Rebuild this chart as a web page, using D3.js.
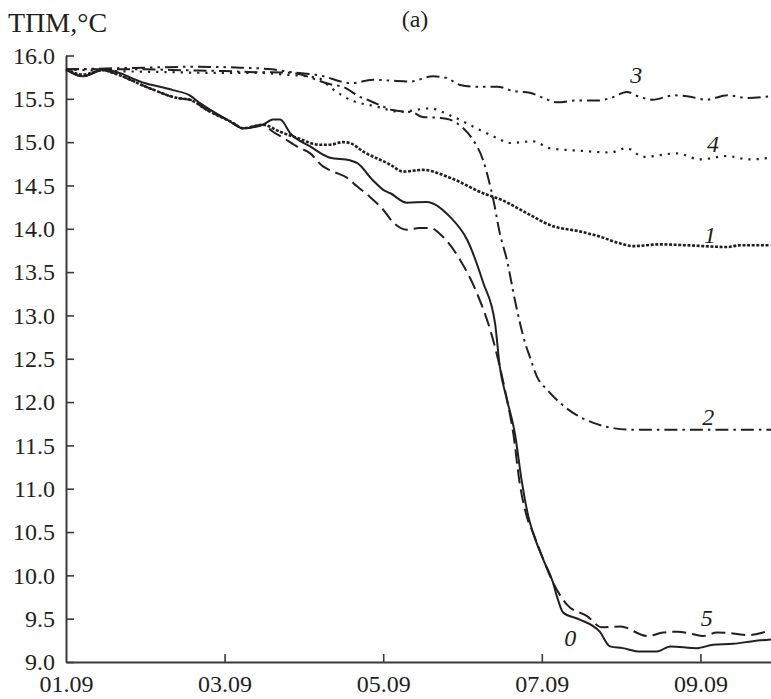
<!DOCTYPE html>
<html>
<head>
<meta charset="utf-8">
<script src="https://cdn.jsdelivr.net/npm/d3@7"></script>
<style>
  html, body { margin: 0; padding: 0; background: #ffffff; }
  svg { display: block; }
  text { font-family: "Liberation Serif", "Times New Roman", serif; fill: #231f20; }
</style>
</head>
<body>
<svg id="chart" width="771" height="699"></svg>
<script>
// ---- data (x = day of September, y = ТПМ, °C) ----
const xTickDays = [1, 3, 5, 7, 9];
const xTickLabels = ["01.09", "03.09", "05.09", "07.09", "09.09"];
const yTicks = [9.0, 9.5, 10.0, 10.5, 11.0, 11.5, 12.0, 12.5, 13.0, 13.5, 14.0, 14.5, 15.0, 15.5, 16.0];

const s0Days = [1.00, 1.21, 1.47, 2.00, 2.35, 2.56, 2.69, 3.03, 3.23, 3.48, 3.61, 3.70, 3.83, 4.08, 4.33, 4.58, 4.67, 4.87, 5.00, 5.09, 5.30, 5.55, 5.84, 6.06, 6.26, 6.41, 6.47, 6.56, 6.66, 6.75, 6.83, 6.89, 7.02, 7.14, 7.19, 7.27, 7.48, 7.73, 7.86, 8.02, 8.24, 8.45, 8.62, 8.96, 9.16, 9.41, 9.66, 9.89];
const s0Vals = [15.84, 15.76, 15.84, 15.68, 15.60, 15.54, 15.45, 15.26, 15.16, 15.20, 15.26, 15.26, 15.10, 14.95, 14.82, 14.79, 14.76, 14.56, 14.45, 14.41, 14.30, 14.31, 14.14, 13.87, 13.38, 12.91, 12.41, 12.03, 11.64, 11.07, 10.68, 10.49, 10.18, 9.92, 9.76, 9.57, 9.49, 9.35, 9.18, 9.16, 9.12, 9.12, 9.18, 9.16, 9.20, 9.21, 9.24, 9.26];

const s1Days = [1.00, 1.21, 1.47, 1.59, 2.06, 2.40, 2.56, 2.78, 3.11, 3.23, 3.48, 3.70, 3.91, 4.20, 4.33, 4.49, 4.58, 4.75, 5.09, 5.25, 5.50, 5.84, 6.26, 6.50, 6.81, 7.14, 7.48, 7.73, 7.99, 8.15, 8.49, 8.83, 9.34, 9.50, 9.88];
const s1Vals = [15.84, 15.78, 15.83, 15.80, 15.62, 15.51, 15.49, 15.37, 15.22, 15.16, 15.20, 15.12, 15.05, 14.97, 14.97, 15.00, 14.99, 14.89, 14.74, 14.66, 14.68, 14.59, 14.41, 14.33, 14.18, 14.03, 13.97, 13.91, 13.83, 13.80, 13.82, 13.81, 13.79, 13.81, 13.81];

const s2Days = [1.00, 1.50, 2.00, 2.50, 3.00, 3.30, 3.83, 4.37, 4.49, 4.71, 4.80, 5.12, 5.38, 5.50, 5.72, 5.84, 6.01, 6.13, 6.26, 6.35, 6.39, 6.47, 6.56, 6.66, 6.79, 6.85, 6.94, 7.07, 7.23, 7.44, 7.65, 7.90, 8.15, 8.50, 9.00, 9.50, 9.89];
const s2Vals = [15.84, 15.84, 15.84, 15.83, 15.82, 15.81, 15.80, 15.66, 15.64, 15.52, 15.49, 15.37, 15.34, 15.29, 15.28, 15.26, 15.16, 15.03, 14.79, 14.49, 14.33, 13.95, 13.64, 13.18, 12.68, 12.52, 12.29, 12.14, 11.99, 11.85, 11.76, 11.70, 11.68, 11.68, 11.68, 11.68, 11.68];

const s3Days = [1.00, 1.50, 2.00, 2.60, 3.20, 3.60, 3.83, 4.20, 4.60, 4.87, 5.10, 5.34, 5.63, 5.80, 5.97, 6.18, 6.44, 6.64, 6.85, 7.02, 7.19, 7.44, 7.70, 7.90, 8.07, 8.24, 8.40, 8.66, 8.83, 9.08, 9.34, 9.59, 9.89];
const s3Vals = [15.84, 15.85, 15.86, 15.87, 15.86, 15.84, 15.81, 15.77, 15.68, 15.72, 15.71, 15.70, 15.76, 15.74, 15.66, 15.64, 15.64, 15.59, 15.57, 15.51, 15.46, 15.48, 15.48, 15.52, 15.58, 15.52, 15.49, 15.54, 15.53, 15.49, 15.54, 15.51, 15.53];

const s4Days = [1.00, 1.60, 2.20, 2.80, 3.40, 3.75, 4.18, 4.35, 4.58, 4.92, 5.21, 5.59, 5.84, 6.22, 6.43, 6.60, 6.89, 7.10, 7.50, 7.86, 8.07, 8.28, 8.70, 9.00, 9.33, 9.62, 9.88];
const s4Vals = [15.84, 15.82, 15.81, 15.80, 15.80, 15.78, 15.74, 15.62, 15.49, 15.41, 15.35, 15.39, 15.31, 15.14, 15.05, 14.99, 15.01, 14.93, 14.90, 14.88, 14.93, 14.83, 14.87, 14.80, 14.84, 14.80, 14.82];

const s5Days = [1.00, 1.21, 1.47, 1.59, 2.06, 2.40, 2.56, 2.78, 3.11, 3.23, 3.48, 3.61, 3.74, 3.91, 4.08, 4.24, 4.37, 4.54, 4.67, 4.83, 5.00, 5.12, 5.30, 5.46, 5.59, 5.75, 5.97, 6.18, 6.36, 6.47, 6.56, 6.64, 6.72, 6.81, 6.89, 7.02, 7.14, 7.32, 7.57, 7.76, 7.99, 8.33, 8.53, 8.71, 8.91, 9.03, 9.21, 9.41, 9.59, 9.79, 9.85];
const s5Vals = [15.84, 15.76, 15.83, 15.80, 15.62, 15.51, 15.49, 15.37, 15.22, 15.16, 15.20, 15.12, 15.05, 14.95, 14.87, 14.72, 14.66, 14.59, 14.49, 14.37, 14.22, 14.08, 13.99, 14.01, 14.01, 13.91, 13.64, 13.26, 12.80, 12.41, 12.03, 11.64, 11.07, 10.68, 10.49, 10.18, 9.92, 9.66, 9.53, 9.40, 9.41, 9.30, 9.34, 9.35, 9.32, 9.30, 9.34, 9.33, 9.31, 9.34, 9.36];

const seriesNames = ["0", "1", "2", "3", "4", "5"];
const seriesDays = [s0Days, s1Days, s2Days, s3Days, s4Days, s5Days];
const seriesVals = [s0Vals, s1Vals, s2Vals, s3Vals, s4Vals, s5Vals];
// label anchor (day, value at text baseline) for each series name
const labelDays = [7.36, 9.12, 9.10, 8.19, 9.16, 9.08];
const labelVals = [9.18, 13.84, 11.74, 15.68, 14.89, 9.41];

// ---- styles ----
const dashes = ["none", "3,1.6", "13,5,2.5,5", "13,5,2.5,5,2.5,5", "2.2,6", "14,6"];
const widths = [2, 2.6, 2, 2, 2.2, 2];

// ---- layout ----
const svg = d3.select("#chart");
const x = d3.scaleLinear().domain([1, 9.89]).range([66, 771]);
const y = d3.scaleLinear().domain([9, 16]).range([662, 55.5]);

// axes
const gx = svg.append("g").attr("transform", "translate(0,662)")
  .call(d3.axisBottom(x).tickValues(xTickDays)
    .tickFormat((d, i) => xTickLabels[i])
    .tickSizeInner(-8).tickSizeOuter(0).tickPadding(13));
const gy = svg.append("g").attr("transform", "translate(66,0)")
  .call(d3.axisLeft(y).tickValues(yTicks).tickFormat(d3.format(".1f"))
    .tickSizeInner(-8).tickSizeOuter(0).tickPadding(11));

[gx, gy].forEach(g => {
  g.select(".domain").attr("stroke", "#3a3a3a").attr("stroke-width", 2);
  g.selectAll(".tick line").attr("stroke", "#3a3a3a").attr("stroke-width", 1.6);
  g.selectAll(".tick text").attr("font-size", 24).attr("fill", "#231f20")
    .style("font-family", "'Liberation Serif', serif");
});
gx.selectAll(".tick").filter(d => d === 1).select("line").remove();

// titles
svg.append("text").attr("x", 8).attr("y", 32).attr("font-size", 28).text("ТПМ,°С");
svg.append("text").attr("x", 415).attr("y", 27).attr("font-size", 24)
  .attr("text-anchor", "middle").text("(a)");

// lines
const line = d3.line().x(d => x(d[0])).y(d => y(d[1])).curve(d3.curveMonotoneX);
seriesNames.forEach((name, i) => {
  const pts = seriesDays[i].map((d, j) => [d, seriesVals[i][j]]);
  svg.append("path").datum(pts)
    .attr("fill", "none")
    .attr("stroke", "#231f20")
    .attr("stroke-width", widths[i])
    .attr("stroke-dasharray", dashes[i])
    .attr("d", line);
  svg.append("text")
    .attr("x", x(labelDays[i])).attr("y", y(labelVals[i]))
    .attr("font-size", 24).attr("font-style", "italic")
    .attr("text-anchor", "middle")
    .text(name);
});
</script>
</body>
</html>
